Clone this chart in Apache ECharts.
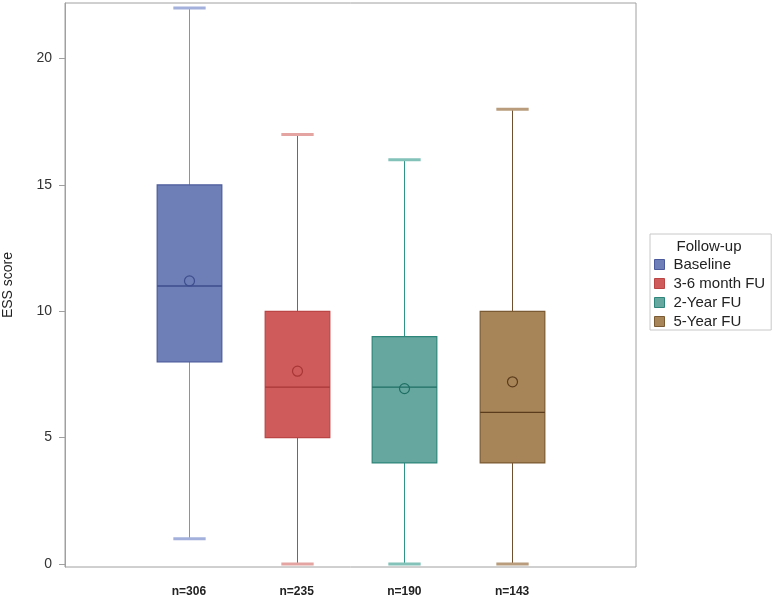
<!DOCTYPE html>
<html>
<head>
<meta charset="utf-8">
<script src="https://cdn.jsdelivr.net/npm/echarts@6/dist/echarts.min.js"></script>
<style>
  html, body { margin: 0; padding: 0; background: #fff; }
  #main { width: 773px; height: 599px; }
</style>
</head>
<body>
<div id="main"></div>
<script>
// data
const groups = ['Baseline', '3-6 month FU', '2-Year FU', '5-Year FU'];
const nLabels = ['n=306', 'n=235', 'n=190', 'n=143'];
const positions = [1, 2, 3, 4];
const mins = [1, 0, 0, 0];
const q1s = [8, 5, 4, 4];
const medians = [11, 7, 7, 6];
const q3s = [15, 10, 9, 10];
const maxs = [22, 17, 16, 18];
const means = [11.2, 7.63, 6.94, 7.21];
const yTicks = [0, 5, 10, 15, 20];

// colours per group
const fills = ['#6d7fb6', '#d05b5b', '#66a8a0', '#a88558'];
const borders = ['#4a5a9c', '#bb4545', '#2e8579', '#7a5a32'];
const medianColors = ['#3e4d8e', '#a83636', '#1f6e64', '#5a3c1c'];
const whiskerColors = ['#7f91cc', '#cc4040', '#2f9486', '#6e4e2c'];
const capColors = ['#a3b0dc', '#e4a5a2', '#82c2b8', '#b89c7c'];

const font = 'Liberation Sans, Arial, sans-serif';

function renderItem(params, api) {
  const i = params.seriesIndex;
  const x = api.value(0);
  const boxW = api.size([0.6, 0])[0];
  const capW = api.size([0.3, 0])[0];
  const pMin = api.coord([x, api.value(1)]);
  const pQ1 = api.coord([x, api.value(2)]);
  const pMed = api.coord([x, api.value(3)]);
  const pQ3 = api.coord([x, api.value(4)]);
  const pMax = api.coord([x, api.value(5)]);
  const pMean = api.coord([x, api.value(6)]);
  const cx = Math.round(pMed[0]) + 0.5;
  return {
    type: 'group',
    children: [
      { type: 'line', shape: { x1: cx, y1: pMin[1], x2: cx, y2: pQ1[1] },
        style: { stroke: whiskerColors[i], lineWidth: 1 } },
      { type: 'line', shape: { x1: cx, y1: pQ3[1], x2: cx, y2: pMax[1] },
        style: { stroke: whiskerColors[i], lineWidth: 1 } },
      { type: 'line', shape: { x1: cx - capW / 2, y1: pMin[1], x2: cx + capW / 2, y2: pMin[1] },
        style: { stroke: capColors[i], lineWidth: 3 } },
      { type: 'line', shape: { x1: cx - capW / 2, y1: pMax[1], x2: cx + capW / 2, y2: pMax[1] },
        style: { stroke: capColors[i], lineWidth: 3 } },
      { type: 'rect', shape: { x: cx - boxW / 2, y: pQ3[1], width: boxW, height: pQ1[1] - pQ3[1] },
        style: { fill: fills[i], stroke: borders[i], lineWidth: 1.2 } },
      { type: 'line', shape: { x1: cx - boxW / 2, y1: pMed[1], x2: cx + boxW / 2, y2: pMed[1] },
        style: { stroke: medianColors[i], lineWidth: 1.3 } },
      { type: 'circle', shape: { cx: cx, cy: pMean[1], r: 5 },
        style: { fill: 'none', stroke: medianColors[i], lineWidth: 1.2 } }
    ]
  };
}

const series = groups.map((g, i) => ({
  name: g,
  type: 'custom',
  renderItem: renderItem,
  clip: false,
  itemStyle: { color: fills[i] },
  encode: { x: 0, y: [1, 2, 3, 4, 5, 6] },
  data: [[positions[i], mins[i], q1s[i], medians[i], q3s[i], maxs[i], means[i]]]
}));

const myChart = echarts.init(document.getElementById('main'));
myChart.setOption({
  animation: false,
  backgroundColor: '#fff',
  textStyle: { fontFamily: font },
  grid: {
    left: 65, top: 3, right: 137, bottom: 32,
    outerBoundsMode: 'none',
    containLabel: false,
    show: true, borderColor: '#a0a0a0', borderWidth: 1
  },
  xAxis: {
    type: 'value',
    min: -0.15,
    max: 5.15,
    splitLine: { show: false },
    axisLine: { show: false, onZero: false },
    axisTick: { show: false },
    axisLabel: {
      customValues: positions,
      formatter: v => nLabels[positions.indexOf(v)],
      fontSize: 12,
      fontWeight: 'bold',
      color: '#222',
      margin: 19,
      fontFamily: font
    }
  },
  yAxis: {
    type: 'value',
    min: -0.12,
    max: 22.2,
    name: 'ESS score',
    nameLocation: 'middle',
    nameGap: 50,
    nameTextStyle: { fontSize: 14, color: '#222', fontFamily: font },
    splitLine: { show: false },
    axisLine: { show: true, onZero: false, lineStyle: { color: '#a0a0a0' } },
    axisTick: { show: true, customValues: yTicks, length: 6, lineStyle: { color: '#a0a0a0' } },
    axisLabel: { customValues: yTicks, fontSize: 14, color: '#333', margin: 13, fontFamily: font }
  },
  legend: {
    orient: 'vertical',
    left: 650,
    top: 234,
    padding: [23, 6, 1, 4],
    itemWidth: 10,
    itemHeight: 10,
    itemGap: 4,
    icon: 'rect',
    borderColor: '#c8c8c8',
    borderWidth: 1,
    textStyle: { fontSize: 15, color: '#222', padding: [0, 0, 0, 4], fontFamily: font },
    data: groups.map((g, i) => ({
      name: g,
      itemStyle: { color: fills[i], borderColor: borders[i], borderWidth: 1 }
    }))
  },
  graphic: [{
    type: 'text',
    x: 709,
    y: 247,
    style: {
      text: 'Follow-up',
      textAlign: 'center',
      textVerticalAlign: 'middle',
      font: '15px ' + font,
      fill: '#222'
    }
  }],
  series: series
});
</script>
</body>
</html>
